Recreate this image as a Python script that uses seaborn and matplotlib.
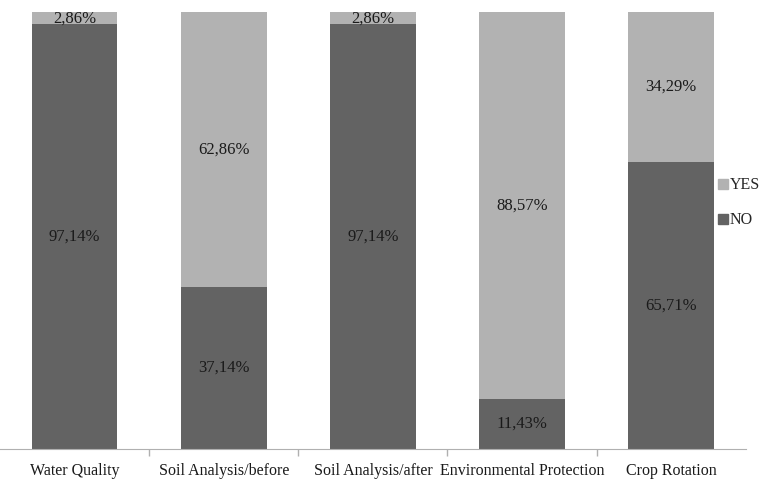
import matplotlib
matplotlib.use("Agg")
import matplotlib.pyplot as plt
from matplotlib.patches import Patch
import seaborn as sns
import pandas as pd

categories = ["Water Quality", "Soil Analysis/before", "Soil Analysis/after",
              "Environmental Protection", "Crop Rotation"]
no_vals = [97.14, 37.14, 97.14, 11.43, 65.71]
yes_vals = [2.86, 62.86, 2.86, 88.57, 34.29]

dark = "#636363"
light = "#b2b2b2"

df = pd.DataFrame({"cat": categories, "NO": no_vals, "YES": yes_vals})
df["total"] = df["NO"] + df["YES"]

sns.set_style("white")
plt.rcParams["font.family"] = ["Liberation Serif", "DejaVu Serif"]

fig = plt.figure(figsize=(7.61, 4.79), dpi=100)
ax = fig.add_axes([0.0, 0.063, 0.98, 0.912])

# stacked: total (YES on top) then NO over it
sns.barplot(data=df, x="cat", y="total", color=light, width=0.575,
            saturation=1, linewidth=0, ax=ax, order=categories)
sns.barplot(data=df, x="cat", y="NO", color=dark, width=0.575,
            saturation=1, linewidth=0, ax=ax, order=categories)

def fmt(v):
    return f"{v:.2f}%".replace(".", ",")

for i, (n, y) in enumerate(zip(no_vals, yes_vals)):
    ax.text(i, n / 2, fmt(n), ha="center", va="center", fontsize=12, color="#1a1a1a")
    ax.text(i, n + y / 2, fmt(y), ha="center", va="center", fontsize=12, color="#1a1a1a")

ax.set_ylim(0, 100)
ax.set_xlim(-0.5, 4.5)
ax.set_xlabel("")
ax.set_ylabel("")
ax.set_yticks([])
ax.set_xticks(range(5))
ax.set_xticklabels(categories, fontsize=11.5, color="#1a1a1a")
ax.tick_params(axis="x", length=0, pad=10)
ax.set_xticks([0.5, 1.5, 2.5, 3.5], minor=True)
ax.tick_params(axis="x", which="minor", length=5, width=1, color="#b0b0b0",
               direction="out", bottom=True)
for s in ["top", "right", "left"]:
    ax.spines[s].set_visible(False)
ax.spines["bottom"].set_color("#b0b0b0")
ax.set_facecolor("none")

handles = [Patch(color=light, label="YES"), Patch(color=dark, label="NO")]
fig.legend(handles=handles, loc="upper right", bbox_to_anchor=(0.999, 0.63),
           frameon=False, fontsize=11.5, handlelength=0.6, handleheight=0.6,
           handletextpad=0.15, labelspacing=1.2, borderaxespad=0, borderpad=0)

fig.savefig("out.png", dpi=100)
